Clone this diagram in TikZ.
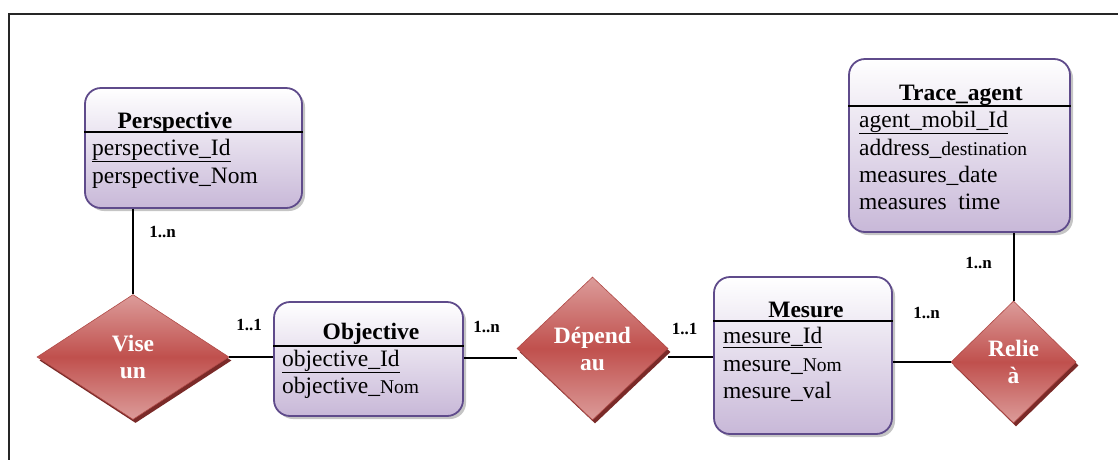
\documentclass[tikz,border=0pt]{standalone}
\usepackage{fontspec}
\setmainfont{Liberation Serif}
\usetikzlibrary{shapes.geometric,shadows}
\definecolor{entborder}{HTML}{5F4B8B}
\definecolor{entbot}{HTML}{C8B8D8}
\definecolor{reltop}{HTML}{DC9C9A}
\definecolor{relmid}{HTML}{C0504D}
\definecolor{relbor}{HTML}{B04A47}
\definecolor{relshadow}{HTML}{7A2A28}
\newcommand\attrfont{\fontsize{23.5}{28}\selectfont}
\newcommand\smallattrfont{\fontsize{19.5}{22}\selectfont}
\begin{document}
\begin{tikzpicture}[x=1pt,y=-1pt,
  ent/.style={draw=entborder, line width=1.8pt, rounded corners=16pt,
    top color=white, bottom color=entbot, inner sep=0pt,
    drop shadow={shadow xshift=3pt, shadow yshift=-3pt, fill=black!45, opacity=0.5}},
  rel/.style={diamond, draw=relbor, line width=0.6pt, top color=reltop, bottom color=reltop,
    middle color=relmid, inner sep=0pt, text=white, align=center,
    font=\bfseries\fontsize{23.5}{27}\selectfont,
    drop shadow={shadow xshift=2.5pt, shadow yshift=-3.5pt, fill=relshadow, opacity=1}},
  title/.style={anchor=base, font=\bfseries\fontsize{23.5}{28}\selectfont, inner sep=0pt},
  attr/.style={anchor=base west, font=\attrfont, inner sep=0pt},
  card/.style={font=\bfseries\fontsize{17}{20}\selectfont, inner sep=0pt},
  link/.style={line width=2pt, black},
  divider/.style={line width=1.3pt, black}
]
\useasboundingbox (0,0) rectangle (1118,459);
\draw[line width=1.4pt, black!85] (9,470) -- (9,14) -- (1130,14);

% entities
\node[ent, minimum width=217pt, minimum height=120pt] (persp) at (193.5,148) {};
\node[ent, minimum width=189pt, minimum height=114pt] (obj) at (368.5,359) {};
\node[ent, minimum width=178pt, minimum height=157pt] (mes) at (803,355.5) {};
\node[ent, minimum width=221pt, minimum height=173pt] (trace) at (959.5,145.5) {};

\draw[divider] (persp.west |- 0,132) -- (persp.east |- 0,132);
\draw[divider] (obj.west |- 0,346) -- (obj.east |- 0,346);
\draw[divider] (mes.west |- 0,321) -- (mes.east |- 0,321);
\draw[divider] (trace.west |- 0,106) -- (trace.east |- 0,106);

\node[title] (perspT) at (175,128) {Perspective};
\node[attr] (perspA1) at (92,155) {\underline{perspective\_Id}};
\node[attr] (perspA2) at (92,183) {perspective\_Nom};

\node[title] (objT) at (371,339) {Objective};
\node[attr] (objA1) at (282,366) {\underline{objective\_Id}};
\node[attr] (objA2) at (282,393) {objective\_{\smallattrfont Nom}};

\node[title] (mesT) at (806,317) {Mesure};
\node[attr] (mesA1) at (723,343) {\underline{mesure\_Id}};
\node[attr] (mesA2) at (723,371) {mesure\_{\smallattrfont Nom}};
\node[attr] (mesA3) at (723,398) {mesure\_val};

\node[title] (traceT) at (961,100) {Trace\_agent};
\node[attr] (traceA1) at (859,127) {\underline{agent\_mobil\_Id}};
\node[attr] (traceA2) at (859,155) {address\_{\smallattrfont destination}};
\node[attr] (traceA3) at (859,182) {measures\_date};
\node[attr] (traceA4) at (859,209) {measures\ \ time};

% relations
\node[rel, minimum width=192pt, minimum height=125pt] (vise) at (133,357) {Vise\\un};
\node[rel, minimum width=151pt, minimum height=143pt] (dep) at (592.5,348.5) {Dépend\\au};
\node[rel, minimum width=125pt, minimum height=122pt] (relie) at (1013.5,362) {Relie\\à};

% connectors
\draw[link] (vise.north |- persp.south) -- (vise.north);
\draw[link] (vise.east) -- (vise.east -| obj.west);
\draw[link] (obj.west -| obj.east) ++(0,-1) -- ([yshift=1pt]obj.west -| dep.west);
\draw[link] (mes.west) ++(0,1.5) -- ([yshift=-1.5pt]mes.west -| dep.east);
\draw[link] (relie.west) -- (relie.west -| mes.east);
\draw[link] (relie.north) -- (relie.north |- trace.south);

% cardinalities
\node[card] (c1) at (162.5,232) {1..n};
\node[card] (c2) at (249,325) {1..1};
\node[card] (c3) at (486.5,327) {1..n};
\node[card] (c4) at (684.5,329) {1..1};
\node[card] (c5) at (926.5,313) {1..n};
\node[card] (c6) at (978.5,263) {1..n};
\end{tikzpicture}
\end{document}
